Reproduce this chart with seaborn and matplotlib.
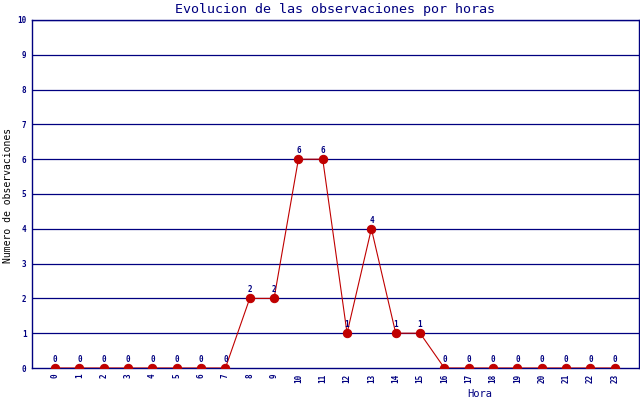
import matplotlib
matplotlib.use("Agg")
import matplotlib.pyplot as plt
import seaborn as sns
import pandas as pd

horas = list(range(24))
observaciones = [0, 0, 0, 0, 0, 0, 0, 0, 2, 2, 6, 6, 1, 4, 1, 1, 0, 0, 0, 0, 0, 0, 0, 0]
yticks = list(range(11))

sns.set_theme(style="white")
plt.rcParams['font.family'] = ['DejaVu Sans Mono', 'DejaVu Sans']

navy = "#000080"
red = "#c00000"

fig = plt.figure(figsize=(6.4, 4.0), dpi=100)
ax = fig.add_axes([32/640, 32/400, 607/640, 348/400])

for y in yticks[1:]:
    ax.axhline(y, color=navy, lw=0.9, zorder=1)

df = pd.DataFrame({"Hora": horas, "Obs": observaciones})
sns.lineplot(data=df, x="Hora", y="Obs", ax=ax, color=red, lw=0.8, marker="o",
             markersize=6, markeredgecolor=red, markerfacecolor=red, zorder=3)

for h, v in zip(horas, observaciones):
    ax.text(h, v + 0.12, str(v), ha="center", va="bottom", fontsize=5.5,
            color=navy, fontweight="bold")

ax.set_xlim(-0.95, 24)
ax.set_ylim(0, 10)
ax.set_xticks(horas)
ax.set_xticklabels([str(h) for h in horas], rotation=90, fontsize=5.5,
                   color=navy, fontweight="bold")
ax.set_yticks(yticks)
ax.set_yticklabels([str(y) for y in yticks], fontsize=5.5, color=navy,
                   fontweight="bold")
ax.tick_params(axis="both", length=0, pad=4)
for s in ax.spines.values():
    s.set_color(navy)
    s.set_linewidth(1.0)
ax.set_xlabel("")
ax.set_ylabel("")

fig.text(335/640, 1 - 9/400, "Evolucion de las observaciones por horas",
         ha="center", va="center", fontsize=9.6, color=navy)
fig.text(8/640, 1 - 195/400, "Numero de observaciones", rotation=90,
         ha="center", va="center", fontsize=7, color="black")
fig.text(480/640, 1 - 394/400, "Hora", ha="center", va="center",
         fontsize=7.5, color=navy)

fig.savefig("out.png", dpi=100, facecolor="white")
